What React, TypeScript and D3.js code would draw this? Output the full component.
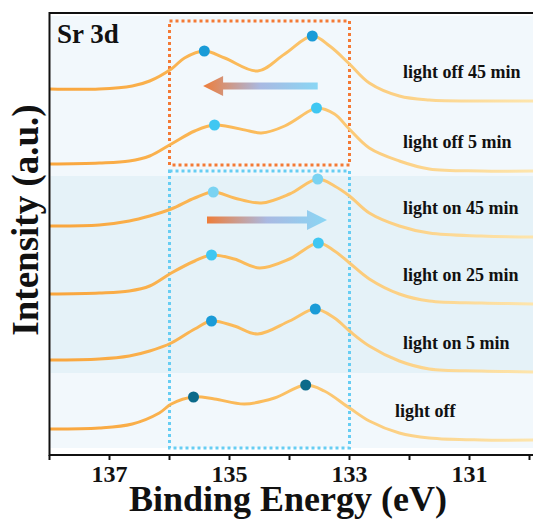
import React from 'react';
import * as d3 from 'd3';

// binding energy (eV) vs intensity (a.u.)
const offF45: [number, number][] = [
  [138, 36.6], [137.17, 36.6], [136.62, 36.9], [136.33, 37.4], [135.97, 38.6], [135.75, 39.7],
  [135.42, 40.4], [135.08, 39.7], [134.53, 38.4], [134.08, 40.1], [133.62, 41.9], [133.33, 40.9],
  [133.0, 39.1], [132.67, 37.2], [132.17, 35.9], [131.67, 35.5], [130.8, 35.4], [129.9, 35.4],
];
const offF5: [number, number][] = [
  [138, 29.1], [137.17, 29.2], [136.67, 29.4], [136.33, 29.9], [135.97, 31.1], [135.58, 32.4],
  [135.25, 33.0], [134.67, 32.4], [134.47, 32.2], [134.08, 32.9], [133.67, 34.4], [133.55, 34.7],
  [133.25, 34.1], [133.02, 32.7], [132.67, 30.7], [132.17, 29.4], [131.67, 28.6], [130.8, 28.4], [129.9, 28.4],
];
const on45: [number, number][] = [
  [138, 22.9], [137.17, 23.0], [136.67, 23.4], [136.33, 23.9], [135.97, 24.6], [135.58, 25.7],
  [135.27, 26.3], [134.92, 25.7], [134.47, 25.2], [134.0, 26.1], [133.53, 27.6], [133.25, 26.9],
  [133.0, 25.9], [132.67, 24.2], [132.17, 22.9], [131.67, 22.2], [130.8, 21.9], [129.9, 21.8],
];
const on25: [number, number][] = [
  [138, 16.1], [137.17, 16.2], [136.67, 16.4], [136.33, 16.9], [135.97, 18.2], [135.58, 19.4],
  [135.3, 20.0], [134.92, 19.6], [134.5, 18.7], [134.0, 19.6], [133.52, 21.2], [133.25, 20.4],
  [133.0, 19.2], [132.67, 17.6], [132.17, 16.1], [131.67, 15.4], [130.8, 15.2], [129.9, 15.1],
];
const on5: [number, number][] = [
  [138, 9.5], [137.17, 9.6], [136.67, 9.9], [136.33, 10.4], [135.97, 11.2], [135.58, 12.6],
  [135.3, 13.4], [134.92, 12.9], [134.53, 12.1], [134.0, 13.4], [133.57, 14.6], [133.25, 13.7],
  [133.0, 12.4], [132.67, 10.9], [132.17, 9.4], [131.67, 8.6], [130.8, 8.4], [129.9, 8.3],
];
const lightOff: [number, number][] = [
  [138, 2.6], [137.17, 2.7], [136.62, 3.1], [136.17, 4.2], [135.97, 5.1], [135.6, 5.8],
  [135.25, 5.6], [134.75, 5.1], [134.25, 5.7], [133.73, 7.0], [133.42, 6.4], [133.0, 4.7],
  [132.67, 3.4], [132.17, 2.2], [131.67, 1.7], [130.8, 1.5], [129.9, 1.5],
];

const spectra = [offF45, offF5, on45, on25, on5, lightOff];
const seriesLabels = ['light off 45 min', 'light off 5 min', 'light on 45 min', 'light on 25 min', 'light on 5 min', 'light off'];
const peak32 = [135.42, 135.25, 135.27, 135.3, 135.3, 135.6];
const peak52 = [133.62, 133.55, 133.53, 133.52, 133.57, 133.73];
const markerColors = ['#1a9bd7', '#3fc7f2', '#7ad3f2', '#3fc7f2', '#1a9bd7', '#0b6a8a'];

const majorTicks = [137, 135, 133, 131];
const minorTicks = [138, 136, 134, 132, 130];

// shaded bands and boxes (intensity units / eV)
const bands = [
  { y0: 27.9, y1: 43.9, color: '#f2f8fc' },
  { y0: 8.2, y1: 27.9, color: '#e5f2f8' },
  { y0: 0.7, y1: 8.2, color: '#f2f8fc' },
];
const boxes = [
  { e0: 136, e1: 133, y0: 29.0, y1: 43.4, color: '#f47a35' },
  { e0: 136, e1: 133, y0: 0.7, y1: 28.4, color: '#67cdf3' },
];
const arrows = [
  { from: 133.53, to: 135.44, y: 36.9 },
  { from: 135.375, to: 133.375, y: 23.5 },
];

const W = 533;
const H = 522;
const left = 49.5;
const top = 13;
const bottom = 455;

const x = d3.scaleLinear().domain([138, 130]).range([left, left + 480]);
const y = d3.scaleLinear().domain([0, 44.2]).range([bottom, top]);

const line = d3.line<[number, number]>()
  .x(d => x(d[0]))
  .y(d => y(d[1]))
  .curve(d3.curveCatmullRom.alpha(0.5));

const serif = '"Liberation Serif", "Times New Roman", serif';

function peakY(pts: [number, number][], e: number) {
  const p = pts.reduce((a, b) => (Math.abs(b[0] - e) < Math.abs(a[0] - e) ? b : a));
  return p[1];
}

export default function App() {
  return (
    <svg width={W} height={H} style={{ position: 'fixed', left: 0, top: 0, background: '#fff' }}>
      <defs>
        <linearGradient id="lineGrad" gradientUnits="userSpaceOnUse" x1={left} x2={W} y1={0} y2={0}>
          <stop offset="0" stopColor="#f9a53c" />
          <stop offset="0.45" stopColor="#fbbd5e" />
          <stop offset="1" stopColor="#fde5ad" />
        </linearGradient>
        {arrows.map((a, i) => (
          <linearGradient key={i} id={`arrowGrad${i}`} gradientUnits="userSpaceOnUse"
            x1={Math.min(x(a.from), x(a.to))} x2={Math.max(x(a.from), x(a.to))} y1={0} y2={0}>
            <stop offset="0" stopColor="#ee7d3a" />
            <stop offset="0.5" stopColor="#a9b9e2" />
            <stop offset="1" stopColor="#8ad6f4" />
          </linearGradient>
        ))}
      </defs>

      {bands.map((b, i) => (
        <rect key={i} x={left + 1} y={y(b.y1)} width={W - left} height={y(b.y0) - y(b.y1)} fill={b.color} />
      ))}

      {boxes.map((b, i) => (
        <rect key={i} x={x(b.e0)} y={y(b.y1)} width={x(b.e1) - x(b.e0)} height={y(b.y0) - y(b.y1)}
          fill="none" stroke={b.color} strokeWidth={3} strokeDasharray="3 3" />
      ))}

      {arrows.map((a, i) => {
        const x0 = x(a.from);
        const x1 = x(a.to);
        const dir = Math.sign(x1 - x0);
        const yc = y(a.y);
        const headLen = 20;
        const hw = 10;
        const sw = 3.5;
        const xb = x1 - dir * headLen;
        const d = `M${x0},${yc - sw}L${xb},${yc - sw}L${xb},${yc - hw}L${x1},${yc}L${xb},${yc + hw}L${xb},${yc + sw}L${x0},${yc + sw}Z`;
        return <path key={i} d={d} fill={`url(#arrowGrad${i})`} />;
      })}

      {spectra.map((s, i) => (
        <path key={i} d={line(s) || ''} fill="none" stroke="url(#lineGrad)" strokeWidth={3} />
      ))}

      {spectra.map((s, i) => (
        <g key={i} fill={markerColors[i]}>
          <circle cx={x(peak32[i])} cy={y(peakY(s, peak32[i]))} r={5.5} />
          <circle cx={x(peak52[i])} cy={y(peakY(s, peak52[i]))} r={5.5} />
        </g>
      ))}

      {spectra.map((s, i) => (
        <text key={i} x={i === 5 ? 395 : 403} y={y(s[s.length - 1][1]) - 23}
          fontFamily={serif} fontWeight="bold" fontSize={18} fill="#111">
          {seriesLabels[i]}
        </text>
      ))}

      <text x={57} y={43} fontFamily={serif} fontWeight="bold" fontSize={27} fill="#111">Sr 3d</text>

      {/* axes */}
      <line x1={left} x2={W} y1={top} y2={top} stroke="#111" strokeWidth={2} />
      <line x1={left} x2={left} y1={top - 1} y2={bottom + 1} stroke="#111" strokeWidth={2} />
      <line x1={left} x2={W} y1={bottom} y2={bottom} stroke="#111" strokeWidth={2} />
      {[...majorTicks, ...minorTicks].map(t => (
        <line key={t} x1={x(t)} x2={x(t)} y1={bottom} y2={bottom + 5} stroke="#111" strokeWidth={2} />
      ))}
      {majorTicks.map(t => (
        <text key={t} x={x(t)} y={482} textAnchor="middle" fontFamily={serif} fontWeight="bold" fontSize={24} fill="#111">
          {t}
        </text>
      ))}
      <text x={288} y={511} textAnchor="middle" fontFamily={serif} fontWeight="bold" fontSize={36} fill="#111">
        Binding Energy (eV)
      </text>
      <text transform="translate(38,220) rotate(-90)" textAnchor="middle" fontFamily={serif} fontWeight="bold" fontSize={37} fill="#111">
        Intensity (a.u.)
      </text>
    </svg>
  );
}
